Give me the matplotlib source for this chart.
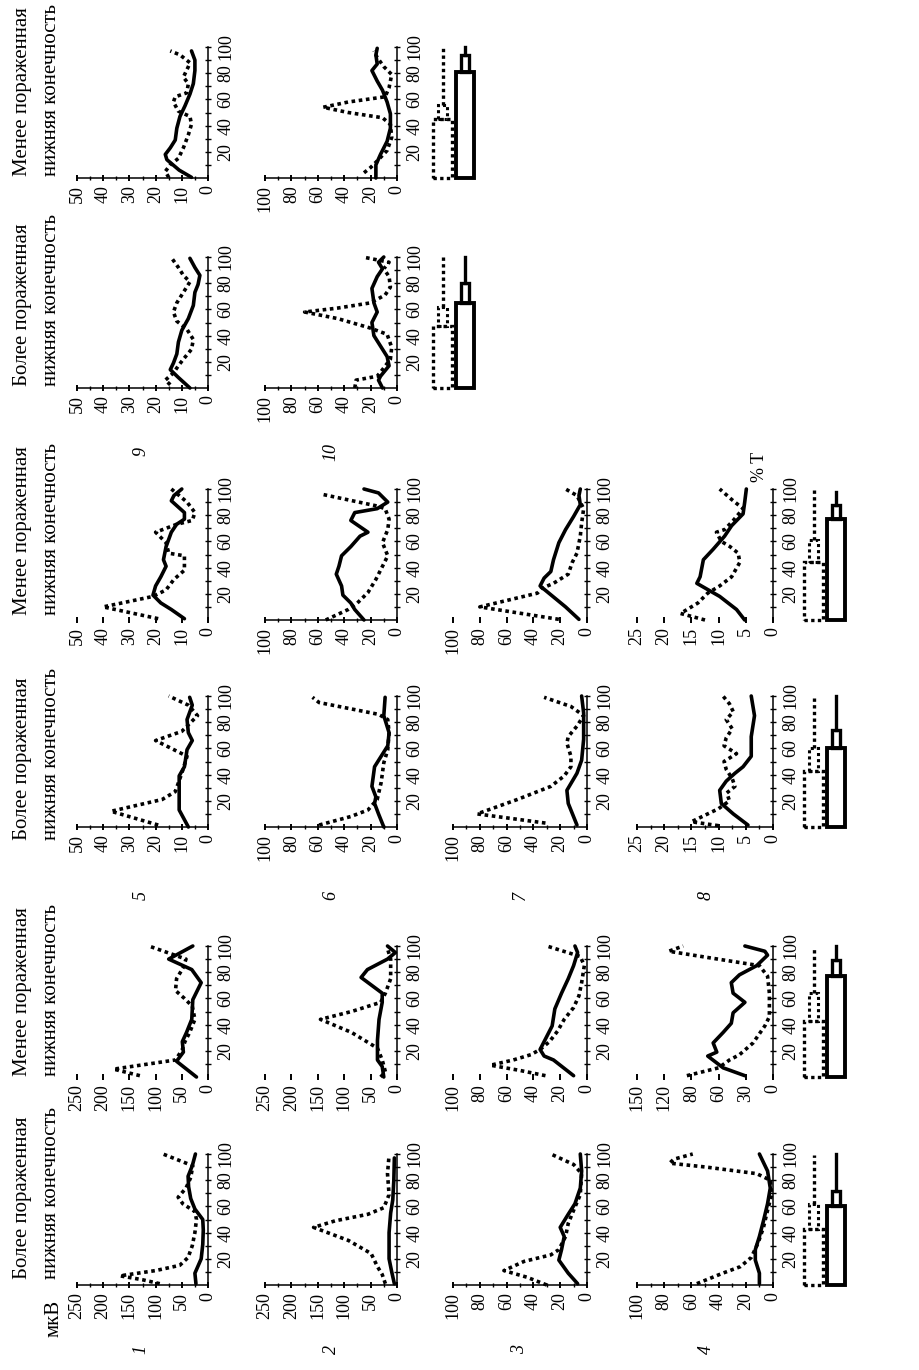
import matplotlib
matplotlib.use('Agg')
import matplotlib.pyplot as plt
from matplotlib.patches import Rectangle

plt.rcParams['font.family'] = ['Liberation Serif', 'DejaVu Serif']

# ---------------- data (value in mkV vs % of gait cycle T) ----------------
# Более пораженная (b) / Менее пораженная (m) нижняя конечность, muscles 1..10
b1_sol_t = [1, 9, 20, 31, 42, 50, 58, 66, 75, 83, 91, 100]
b1_sol_v = [23, 25, 13, 10, 9, 10, 25, 33, 37, 38, 30, 24]
b1_dot_t = [1, 4, 7, 11, 15, 21, 30, 40, 50, 56, 62, 67, 74, 82, 91, 100]
b1_dot_v = [92, 125, 168, 100, 54, 38, 30, 25, 22, 25, 48, 57, 42, 33, 29, 86]

b2_sol_t = [1, 10, 20, 40, 55, 65, 80, 97]
b2_sol_v = [5, 10, 15, 15, 12, 8, 6, 5]
b2_dot_t = [1, 8, 14, 24, 34, 44, 49, 54, 59, 69, 85, 99]
b2_dot_v = [22, 28, 37, 49, 92, 158, 117, 55, 25, 15, 18, 15]

b3_sol_t = [1, 9, 19, 27, 37, 44, 54, 62, 74, 87, 100]
b3_sol_v = [7, 14, 21, 19, 17, 20, 14, 9, 5, 4, 5]
b3_dot_t = [0, 6, 11, 18, 23, 27, 37, 47, 57, 69, 85, 92, 100]
b3_dot_v = [30, 45, 62, 47, 27, 21, 16, 14, 10, 5, 4, 10, 27]

b4_sol_t = [1, 9, 19, 27, 37, 49, 62, 74, 87, 100]
b4_sol_v = [10, 10, 13, 13, 10, 7, 4, 2, 4, 10]
b4_dot_t = [1, 9, 14, 21, 32, 44, 57, 69, 80, 85, 90, 93, 96, 100]
b4_dot_v = [56, 37, 24, 16, 11, 7, 4, 1, 2, 12, 49, 76, 73, 59]

m1_sol_t = [0, 12, 19, 27, 34, 44, 59, 72, 82, 90, 100]
m1_sol_v = [22, 60, 47, 49, 41, 31, 29, 13, 31, 75, 29]
m1_dot_t = [1, 6, 13, 21, 27, 34, 44, 54, 60, 66, 75, 83, 90, 100]
m1_dot_v = [130, 180, 62, 49, 44, 35, 25, 30, 45, 62, 60, 48, 42, 113]

m2_sol_t = [0, 8, 13, 28, 44, 57, 64, 76, 82, 90, 95, 100]
m2_sol_v = [25, 28, 37, 37, 34, 28, 28, 68, 56, 18, 3, 18]
m2_dot_t = [0, 4, 13, 22, 34, 44, 50, 57, 64, 75, 90, 98]
m2_dot_v = [31, 22, 28, 37, 86, 145, 86, 31, 22, 12, 12, 18]

m3_sol_t = [1, 13, 16, 21, 31, 39, 52, 64, 75, 85, 95, 100]
m3_sol_v = [10, 25, 32, 35, 30, 26, 24, 19, 14, 10, 7, 9]
m3_dot_t = [1, 5, 9, 13, 17, 21, 27, 35, 44, 53, 62, 72, 85, 92, 100]
m3_dot_v = [31, 50, 72, 55, 42, 35, 28, 22, 17, 10, 6, 4, 2, 5, 30]

m4_sol_t = [1, 7, 16, 19, 26, 34, 41, 49, 57, 64, 72, 78, 85, 93, 96, 100]
m4_sol_v = [31, 55, 72, 62, 66, 55, 46, 44, 31, 44, 46, 37, 18, 6, 9, 31]
m4_dot_t = [1, 7, 13, 17, 26, 39, 46, 64, 77, 85, 91, 96, 100]
m4_dot_v = [95, 60, 48, 37, 22, 9, 4, 4, 6, 15, 70, 115, 99]

b5_sol_t = [0, 13, 26, 39, 46, 59, 66, 72, 82, 93, 99]
b5_sol_v = [7.5, 11, 11, 11, 9, 8, 6, 7.5, 8, 6, 7]
b5_dot_t = [1.5, 12, 21, 27, 41, 54, 66, 73, 85, 93, 100]
b5_dot_v = [19, 37, 17.5, 12.5, 10, 8, 20, 10, 4, 7.5, 15]

b6_sol_t = [0, 10, 18, 23, 31, 46, 54, 62, 72, 85, 99]
b6_sol_v = [10, 14, 17, 16, 19, 17, 12, 7, 6, 10, 9]
b6_dot_t = [1.5, 8, 13, 21, 34, 49, 59, 72, 82, 86, 95, 99]
b6_dot_v = [59, 35, 22, 15, 12, 10, 7, 6, 7, 14, 59, 64]

b7_sol_t = [1.5, 18, 28, 41, 51, 67, 87, 100]
b7_sol_v = [7.5, 14, 15, 7.5, 4, 2.5, 2.5, 4]
b7_dot_t = [3, 10, 21, 31, 39, 46, 54, 64, 69, 77, 85, 92, 99]
b7_dot_v = [31, 82, 52, 27, 17, 12, 12, 15, 14, 7.5, 2.5, 12, 32]

b8_sol_t = [1.5, 10, 18, 28, 35, 41, 46, 54, 69, 85, 100]
b8_sol_v = [4.6, 7.3, 9.5, 9.8, 8.6, 7, 5.5, 4, 4, 3.4, 4]
b8_dot_t = [1, 4, 8, 14, 20, 26, 31, 37, 44, 50, 56, 62, 68, 75, 82, 88, 94, 100]
b8_dot_v = [10, 15, 13, 10, 8, 8.5, 7, 7.5, 8.6, 9, 6.7, 9, 8.6, 7.5, 8.6, 7.3, 8, 9.2]

m5_sol_t = [1, 8, 13, 19, 26, 33, 41, 46, 56, 67, 73, 77, 82, 91, 95, 100]
m5_sol_v = [9, 14, 18, 21, 20, 18, 16, 17, 16, 14, 12, 9, 9, 14, 13, 10]
m5_dot_t = [1, 10, 18, 23, 31, 38, 49, 51, 59, 67, 70, 73, 76, 82, 90, 100]
m5_dot_v = [19, 40, 21, 16, 13, 9, 9, 15, 16, 20, 16, 12, 6, 5, 8, 14]

m6_sol_t = [0, 8, 13, 19, 26, 35, 41, 49, 56, 64, 67, 76, 82, 85, 90, 97, 100]
m6_sol_v = [25, 32, 35, 41, 42, 46, 44, 42, 35, 28, 22, 35, 32, 15, 7, 14, 25]
m6_dot_t = [0, 8, 13, 21, 31, 41, 49, 59, 69, 77, 85, 87, 96]
m6_dot_v = [54, 37, 30, 22, 16, 11, 7, 11, 7, 6, 9, 15, 57]

m7_sol_t = [0.5, 10, 26, 32, 37, 46, 59, 69, 79, 88, 95, 100]
m7_sol_v = [6, 16, 35, 32, 27, 25, 21, 16, 10, 5, 6, 5]
m7_dot_t = [0.5, 10, 20.5, 24, 28, 35, 44, 51, 64, 74, 85, 95, 100]
m7_dot_v = [21, 80, 37, 34, 25, 14, 11, 7.5, 5, 4, 2.5, 7.5, 16]

m8_sol_t = [0, 8, 18, 28, 33, 46, 54, 64, 72, 81, 90, 100]
m8_sol_v = [5.2, 6.7, 9.8, 14, 13.4, 12.8, 11, 8.9, 7.6, 5.5, 5.2, 4.9]
m8_dot_t = [0, 5, 13, 20.5, 26, 33, 44, 51, 56, 60, 67, 69, 76, 85, 92, 100]
m8_dot_v = [12.5, 17, 13.8, 12, 9.8, 7.6, 6.1, 6.4, 7.9, 9.5, 10.4, 8.9, 7.3, 5.5, 7.6, 9.8]

b9_sol_t = [0, 8, 14, 19, 26, 35, 44, 53, 63, 73, 79, 86, 92, 99]
b9_sol_v = [6.9, 11.3, 14.4, 13.2, 11.9, 11.3, 10, 7.5, 5.6, 5, 3.8, 3.1, 5, 6.9]
b9_dot_t = [2.5, 6, 11.5, 17, 22, 29.5, 37, 45, 51, 58, 65, 73, 81, 86, 92, 99]
b9_dot_v = [14.4, 16.3, 13.2, 11.3, 9.4, 6.3, 5.6, 8.1, 11.9, 13.2, 11.9, 9.4, 6.9, 9.4, 11.3, 13.8]

b10_sol_t = [0, 6, 9, 17, 24, 32, 40, 50, 58, 65, 76, 85, 91, 96, 100]
b10_sol_v = [11, 14, 12.5, 6, 7.5, 12.5, 17.5, 19, 15, 17.5, 19, 15, 11, 14, 10]
b10_dot_t = [0, 6, 9, 14, 22, 31, 41, 46, 53, 58, 61, 65, 71, 77, 85, 91, 96, 100]
b10_dot_v = [32, 31, 15, 11, 5, 4, 7.5, 21, 45, 70, 45, 20, 9, 5, 6, 10, 6, 26]

m9_sol_t = [0.5, 6, 14, 18, 23, 29, 38, 47, 55, 64, 72, 82, 90, 97]
m9_sol_v = [6.3, 11, 15.7, 16.3, 14.4, 12.5, 11.9, 10.7, 8.8, 6.9, 5.6, 5, 5, 6.3]
m9_dot_t = [0.5, 5, 10, 15, 23, 33, 41, 47, 51, 58, 62, 65, 72, 77, 85, 88, 94, 97]
m9_dot_v = [15, 16.3, 14.4, 11.3, 9.4, 7.5, 6.3, 6.9, 11.3, 13.2, 12.5, 8.1, 7.5, 9.4, 7.5, 6.9, 10.7, 14.4]

m10_sol_t = [0, 10, 18, 28, 38, 49, 58, 67, 74, 82, 87, 94, 99]
m10_sol_v = [16, 16, 12.5, 7.5, 5, 5, 7.5, 11, 15, 19, 15, 16, 15]
m10_dot_t = [4, 8, 13, 21, 31, 41, 46, 50, 54, 58, 62, 69, 79, 85, 92, 97]
m10_dot_v = [25, 20, 15, 7.5, 4, 5, 11, 37, 56, 37, 9, 6, 4, 10, 15, 17.5]

# value-axis ticks per muscle
ticks_250 = [0, 50, 100, 150, 200, 250]
ticks_100 = [0, 20, 40, 60, 80, 100]
ticks_50 = [0, 10, 20, 30, 40, 50]
ticks_25 = [0, 5, 10, 15, 20, 25]
ticks_150 = [0, 30, 60, 90, 120, 150]
labels_150 = ['0', '30', '60', '80', '120', '150']
t_ticks = [20, 40, 60, 80, 100]
t_labels = ['20', '40', '60', '80', '100']

# phase bars (% T): [wide box top, narrow box top, line top]
phase_dot = [[43, 62, 99], [43, 64, 98], [43, 60, 100], [44, 61, 100], [47, 62, 100], [45, 56, 100]]
phase_sol = [[60, 72, 100], [77, 89, 100], [60, 74, 100], [77, 88, 98], [65, 80, 100], [81, 94, 100]]

header_more = ['Более пораженная', 'нижняя конечность']
header_less = ['Менее пораженная', 'нижняя конечность']
unit_label = 'мкВ'
t_axis_label = '% T'

# ---------------- layout (pixels of the 919x1370 page) ----------------
W, H = 919, 1370
fig = plt.figure(figsize=(W / 100, H / 100), dpi=100)
fig.patch.set_facecolor('white')


def fx(x):
    return x / W


def fy(y):
    return 1 - y / H


col_L = [77, 265, 453, 637]
col_R = [208, 397, 587, 773]
strip_Y0 = [1285, 1077, 827, 620, 388, 178]
T_SPAN = 131

panels = [
    # strip, col, sol_t, sol_v, dot_t, dot_v, ticks, labels, axis line
    (0, 0, b1_sol_t, b1_sol_v, b1_dot_t, b1_dot_v, ticks_250, None, True),
    (0, 1, b2_sol_t, b2_sol_v, b2_dot_t, b2_dot_v, ticks_250, None, True),
    (0, 2, b3_sol_t, b3_sol_v, b3_dot_t, b3_dot_v, ticks_100, None, True),
    (0, 3, b4_sol_t, b4_sol_v, b4_dot_t, b4_dot_v, ticks_100, None, True),
    (1, 0, m1_sol_t, m1_sol_v, m1_dot_t, m1_dot_v, ticks_250, None, False),
    (1, 1, m2_sol_t, m2_sol_v, m2_dot_t, m2_dot_v, ticks_250, None, False),
    (1, 2, m3_sol_t, m3_sol_v, m3_dot_t, m3_dot_v, ticks_100, None, False),
    (1, 3, m4_sol_t, m4_sol_v, m4_dot_t, m4_dot_v, ticks_150, labels_150, False),
    (2, 0, b5_sol_t, b5_sol_v, b5_dot_t, b5_dot_v, ticks_50, None, True),
    (2, 1, b6_sol_t, b6_sol_v, b6_dot_t, b6_dot_v, ticks_100, None, True),
    (2, 2, b7_sol_t, b7_sol_v, b7_dot_t, b7_dot_v, ticks_100, None, True),
    (2, 3, b8_sol_t, b8_sol_v, b8_dot_t, b8_dot_v, ticks_25, None, True),
    (3, 0, m5_sol_t, m5_sol_v, m5_dot_t, m5_dot_v, ticks_50, None, False),
    (3, 1, m6_sol_t, m6_sol_v, m6_dot_t, m6_dot_v, ticks_100, None, True),
    (3, 2, m7_sol_t, m7_sol_v, m7_dot_t, m7_dot_v, ticks_100, None, False),
    (3, 3, m8_sol_t, m8_sol_v, m8_dot_t, m8_dot_v, ticks_25, None, False),
    (4, 0, b9_sol_t, b9_sol_v, b9_dot_t, b9_dot_v, ticks_50, None, True),
    (4, 1, b10_sol_t, b10_sol_v, b10_dot_t, b10_dot_v, ticks_100, None, True),
    (5, 0, m9_sol_t, m9_sol_v, m9_dot_t, m9_dot_v, ticks_50, None, True),
    (5, 1, m10_sol_t, m10_sol_v, m10_dot_t, m10_dot_v, ticks_100, None, True),
]

DOTS = (0, (1.0, 1.0))
TICK_FS = 13

for (s, c, st, sv, dt, dv, ticks, labels, axline) in panels:
    L, R, Y0 = col_L[c], col_R[c], strip_Y0[s]
    ax = fig.add_axes([fx(L), fy(Y0), (R - L) / W, T_SPAN / H])
    vmax = ticks[-1]
    ax.set_xlim(vmax, 0)
    ax.set_ylim(0, 100)
    ax.set_facecolor('none')
    ax.plot(sv, st, color='black', lw=2.6, solid_joinstyle='round',
            solid_capstyle='round', clip_on=False, zorder=3)
    ax.plot(dv, dt, color='black', lw=2.6, linestyle=DOTS,
            dash_capstyle='butt', clip_on=False, zorder=3)
    for side in ('left', 'top'):
        ax.spines[side].set_visible(False)
    ax.spines['right'].set_linewidth(1.1)
    ax.spines['bottom'].set_linewidth(1.1)
    ax.spines['bottom'].set_visible(axline)
    ax.yaxis.tick_right()
    ax.set_yticks(t_ticks)
    ax.set_yticks([10, 30, 50, 70, 90], minor=True)
    ax.set_yticklabels(t_labels, rotation=90, va='center', fontsize=TICK_FS)
    ax.tick_params(axis='y', which='both', direction='inout', length=4,
                   width=1, pad=5)
    ax.set_xticks(ticks)
    step = ticks[1] - ticks[0]
    ax.set_xticks([t + step / 2 for t in ticks[:-1]], minor=True)
    ax.set_xticklabels(labels if labels else [str(t) for t in ticks],
                       rotation=90, fontsize=TICK_FS)
    ax.tick_params(axis='x', which='major', direction='inout', length=4,
                   width=1.4, pad=3)
    ax.tick_params(axis='x', which='minor', direction='inout',
                   length=3 if axline else 0, width=1)

# phase bars
box_x = [803, 803, 803, 803, 432, 432]
for s in range(6):
    Y0 = strip_Y0[s]
    bx = fig.add_axes([fx(box_x[s]), fy(Y0), 46 / W, T_SPAN / H])
    bx.set_xlim(0, 46)
    bx.set_ylim(0, 100)
    bx.axis('off')
    w_top, n_top, l_top = phase_dot[s]
    bx.add_patch(Rectangle((1, 0), 19, w_top, fill=False, lw=2.4,
                           linestyle=DOTS, ec='black', clip_on=False))
    bx.add_patch(Rectangle((6, w_top), 9, n_top - w_top, fill=False, lw=2.2,
                           linestyle=DOTS, ec='black', clip_on=False))
    bx.plot([10.5, 10.5], [n_top, l_top], color='black', lw=2.4,
            linestyle=DOTS, clip_on=False)
    w_top, n_top, l_top = phase_sol[s]
    bx.add_patch(Rectangle((24, 0), 18, w_top, fill=False, lw=2.8,
                           ec='black', clip_on=False))
    bx.add_patch(Rectangle((29, w_top), 8, n_top - w_top, fill=False, lw=2.4,
                           ec='black', clip_on=False))
    bx.plot([33, 33], [n_top, l_top], color='black', lw=2.4, clip_on=False)

# column headers
header_start = [1279, 1076, 840, 615, 386, 176]
for s in range(6):
    lines = header_more if s % 2 == 0 else header_less
    for k, txt in enumerate(lines):
        fig.text(fx(22 + 29 * k), fy(header_start[s]), txt, rotation=90,
                 rotation_mode='anchor', ha='left', va='center', fontsize=15)

# muscle numbers
num_rows = [(1350, ['1', '2', '3', '4']), (895, ['5', '6', '7', '8']),
            (452, ['9', '10'])]
num_x = [141, 331, 520, 706]
for y, labs in num_rows:
    for i, lab in enumerate(labs):
        fig.text(fx(num_x[i]), fy(y), lab, rotation=90, style='italic',
                 ha='center', va='center', fontsize=13)

fig.text(fx(54), fy(1318), unit_label, rotation=90, ha='center', va='center',
         fontsize=15)
fig.text(fx(760), fy(467), t_axis_label, rotation=90, ha='center',
         va='center', fontsize=13)

fig.savefig('out.png', dpi=100, facecolor='white')
